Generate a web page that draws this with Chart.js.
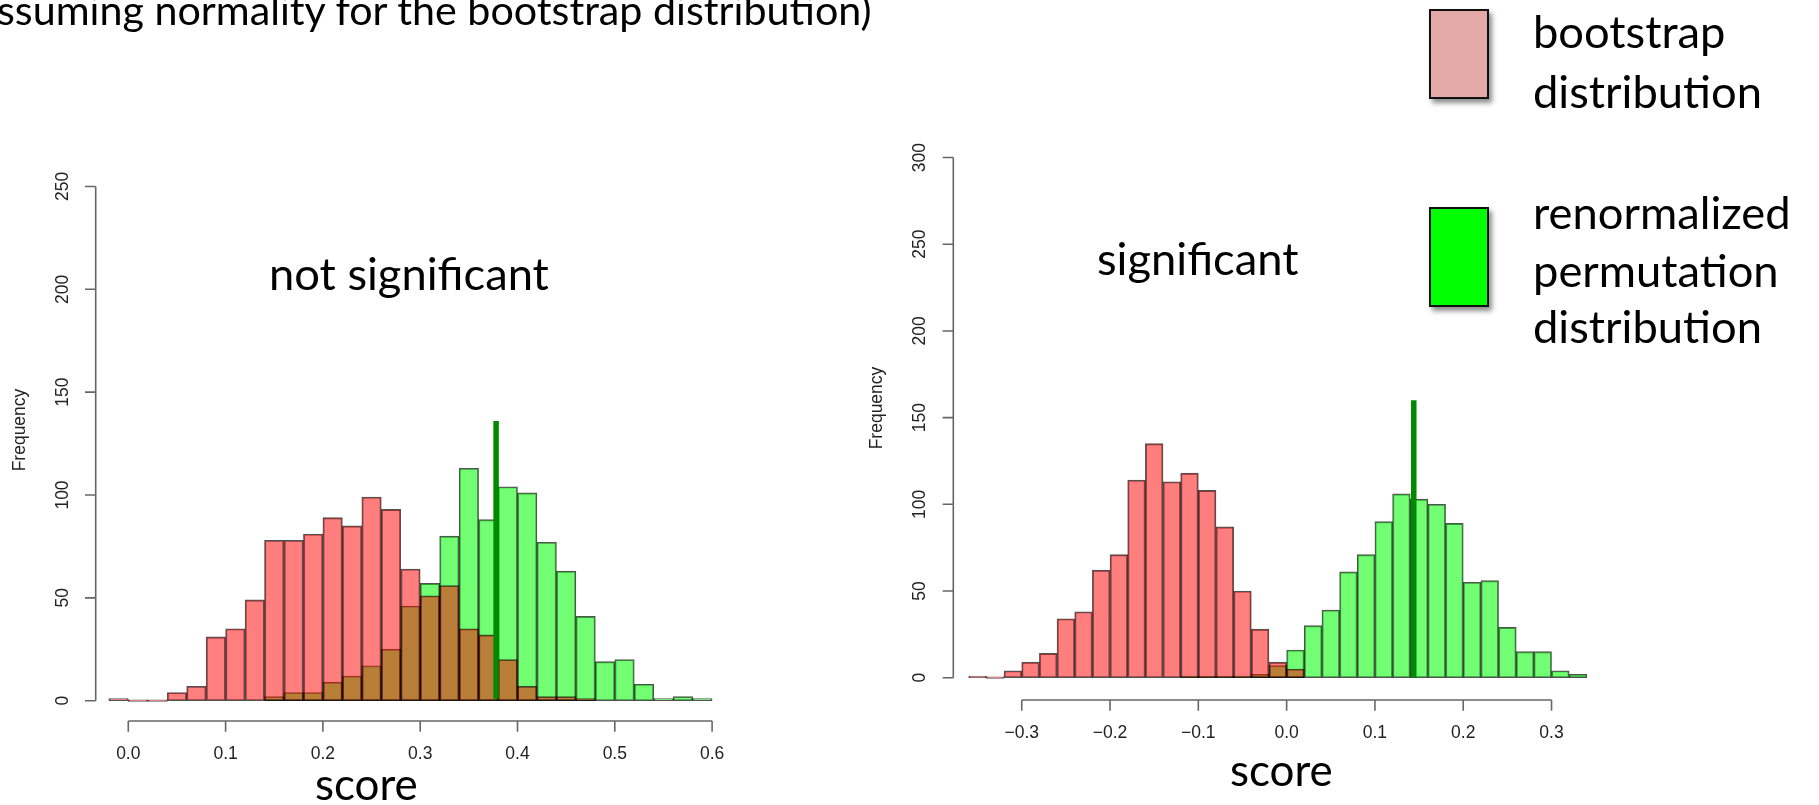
<!DOCTYPE html>
<html>
<head>
<meta charset="utf-8">
<script src="https://cdn.jsdelivr.net/npm/chart.js@4.4.1/dist/chart.umd.min.js"></script>
<style>
  html, body { margin: 0; padding: 0; background: #fff; }
  body { width: 1819px; height: 805px; position: relative; overflow: hidden; }
  canvas { position: absolute; top: 0; }
  .t { position: absolute; white-space: nowrap; color: #000; font-family: Lato, "Open Sans", sans-serif; }
  .box { position: absolute; box-sizing: border-box; border: 2px solid #111; box-shadow: 3px 4px 5px rgba(0,0,0,0.45); }
</style>
</head>
<body>
<canvas id="left" width="820" height="805" style="left:0px"></canvas>
<canvas id="right" width="820" height="805" style="left:830px"></canvas>
<div class="box" style="left:1429px;top:9px;width:60px;height:90px;background:#e3a8a8"></div>
<div class="box" style="left:1429px;top:207px;width:60px;height:100px;background:#00ff00"></div>
<div id="texts"></div>
<script>
// ---------------- data ----------------
const binWidth = 0.02;

// left panel ("not significant")
const leftRedStart = -0.02;
const leftRed = [1, 0, 0, 4, 7, 31, 35, 49, 78, 78, 81, 89, 85, 99, 93, 64, 51, 56, 35, 32, 20, 7, 2, 2, 1];
const leftGreenStart = 0.14;
const leftGreen = [2, 4, 4, 9, 12, 17, 25, 46, 57, 80, 113, 88, 104, 101, 77, 63, 41, 19, 20, 8, 1, 2, 1];
const leftObserved = { x: 0.378, low: 1, high: 136 };
const leftXTicks = [0, 0.1, 0.2, 0.3, 0.4, 0.5, 0.6];
const leftXLabels = ["0.0", "0.1", "0.2", "0.3", "0.4", "0.5", "0.6"];
const leftYTicks = [0, 50, 100, 150, 200, 250];

// right panel ("significant")
const rightRedStart = -0.36;
const rightRed = [1, 0, 4, 9, 14, 34, 38, 62, 71, 114, 135, 113, 118, 108, 87, 50, 28, 9, 5];
const rightGreenStart = -0.12;
const rightGreen = [1, 1, 1, 1, 2, 7, 16, 30, 39, 61, 71, 90, 106, 103, 100, 89, 55, 56, 29, 15, 15, 4, 2];
const rightObserved = { x: 0.144, low: 0, high: 160 };
const rightXTicks = [-0.3, -0.2, -0.1, 0, 0.1, 0.2, 0.3];
const rightXLabels = ["\u22120.3", "\u22120.2", "\u22120.1", "0.0", "0.1", "0.2", "0.3"];
const rightYTicks = [0, 50, 100, 150, 200, 250, 300];

// ---------------- helpers ----------------
function toPoints(start, counts) {
  return counts.map((c, i) => ({ x: Math.round((start + binWidth * (i + 0.5)) * 1e6) / 1e6, y: c }));
}

const rAxes = {
  id: 'rAxes',
  afterDraw(chart, args, o) {
    const { ctx, chartArea: a, scales: { x, y } } = chart;
    ctx.save();
    ctx.strokeStyle = 'rgba(0,0,0,0.6)';
    ctx.lineWidth = 1.6;
    ctx.beginPath();
    const y0 = y.getPixelForValue(o.yTicks[0]);
    const y1 = y.getPixelForValue(o.yTicks[o.yTicks.length - 1]);
    ctx.moveTo(a.left, y0); ctx.lineTo(a.left, y1);
    o.yTicks.forEach(t => { const p = y.getPixelForValue(t); ctx.moveTo(a.left, p); ctx.lineTo(a.left - 10.7, p); });
    const x0 = x.getPixelForValue(o.xTicks[0]);
    const x1 = x.getPixelForValue(o.xTicks[o.xTicks.length - 1]);
    ctx.moveTo(x0, a.bottom); ctx.lineTo(x1, a.bottom);
    o.xTicks.forEach(t => { const p = x.getPixelForValue(t); ctx.moveTo(p, a.bottom); ctx.lineTo(p, a.bottom + 10.7); });
    ctx.stroke();

    ctx.fillStyle = '#222';
    ctx.font = '17.5px "Liberation Sans", Arial, sans-serif';
    ctx.textAlign = 'center';
    ctx.textBaseline = 'middle';
    o.yTicks.forEach(t => {
      const p = y.getPixelForValue(t);
      ctx.save(); ctx.translate(a.left - 33, p); ctx.rotate(-Math.PI / 2); ctx.fillText(String(t), 0, 0); ctx.restore();
    });
    o.xTicks.forEach((t, i) => {
      ctx.fillText(o.xLabels[i], x.getPixelForValue(t), a.bottom + 33);
    });
    ctx.save(); ctx.translate(a.left - 76, o.ylabY); ctx.rotate(-Math.PI / 2); ctx.fillText('Frequency', 0, 0); ctx.restore();
    ctx.restore();
  }
};

function makeChart(id, red, green, obs, sc, axes) {
  const barCommon = {
    borderColor: 'rgba(0,0,0,0.68)', borderWidth: 1.2, borderSkipped: false,
    grouped: false, barPercentage: 1, categoryPercentage: 1, minBarLength: 1.5
  };
  new Chart(document.getElementById(id), {
    type: 'bar',
    data: {
      datasets: [
        { type: 'line', data: [{ x: obs.x, y: obs.low }, { x: obs.x, y: obs.high }],
          borderColor: '#008a00', borderWidth: 5.5, pointRadius: 0, borderCapStyle: 'butt', order: 0 },
        Object.assign({ label: 'bootstrap distribution', data: red, backgroundColor: 'rgba(255,0,0,0.5)', order: 1 }, barCommon),
        Object.assign({ label: 'renormalized permutation distribution', data: green, backgroundColor: 'rgba(0,255,0,0.55)', order: 2 }, barCommon)
      ]
    },
    options: {
      responsive: false, animation: false, events: [],
      layout: { padding: sc.padding },
      plugins: { legend: { display: false }, tooltip: { enabled: false }, rAxes: axes },
      scales: {
        x: { type: 'linear', min: sc.xmin, max: sc.xmax, display: false, offset: false },
        y: { type: 'linear', min: sc.ymin, max: sc.ymax, display: false }
      }
    },
    plugins: [rAxes]
  });
}

makeChart('left', toPoints(leftRedStart, leftRed), toPoints(leftGreenStart, leftGreen), leftObserved,
  { padding: { left: 95.7, right: 75.3, top: 165.9, bottom: 84 }, xmin: -0.0335, xmax: 0.6335, ymin: -9.87, ymax: 260 },
  { xTicks: leftXTicks, xLabels: leftXLabels, yTicks: leftYTicks, ylabY: 430 });

makeChart('right', toPoints(rightRedStart, rightRed), toPoints(rightGreenStart, rightGreen), rightObserved,
  { padding: { left: 123.3, right: 47.7, top: 140.2, bottom: 105 }, xmin: -0.3775, xmax: 0.3575, ymin: -12.86, ymax: 310 },
  { xTicks: rightXTicks, xLabels: rightXLabels, yTicks: rightYTicks, ylabY: 408 });

// ---------------- slide text ----------------
const mctx = document.createElement('canvas').getContext('2d');
mctx.font = '100px Lato';
const F = 100 * 229 / mctx.measureText('distribution').width;
mctx.font = F + 'px Lato';
const fm = mctx.measureText('distribution');
const A = fm.fontBoundingBoxAscent, D = fm.fontBoundingBoxDescent;
const texts = [
  ["ssuming normality for the bootstrap distribution)", -3, 25, 0.91],
  ["bootstrap", 1533, 48, 1],
  ["distribution", 1533, 108, 1],
  ["renormalized", 1533, 229, 1],
  ["permutation", 1533, 287, 1],
  ["distribution", 1533, 343, 1],
  ["not significant", 269, 290, 1],
  ["significant", 1097, 275, 1],
  ["score", 315, 801, 0.97],
  ["score", 1230, 787, 0.97]
];
const holder = document.getElementById('texts');
texts.forEach(([s, x, base, k]) => {
  const d = document.createElement('div');
  d.className = 't';
  d.textContent = s;
  d.style.fontSize = (F * k) + 'px';
  d.style.lineHeight = ((A + D) * k) + 'px';
  d.style.left = x + 'px';
  d.style.top = (base - A * k) + 'px';
  holder.appendChild(d);
});
</script>
</body>
</html>
